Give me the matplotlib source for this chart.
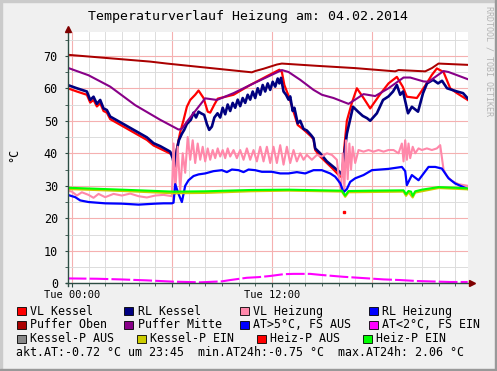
import matplotlib
matplotlib.use("Agg")
import matplotlib.pyplot as plt
from matplotlib.patches import Rectangle
from matplotlib.ticker import MultipleLocator, FuncFormatter

W, H = 497, 371
MONO = "DejaVu Sans Mono"

# time axis in hours since Tue 00:00, values in degC
vl_kessel_t = [-0.25, 0.3, 0.9, 1.1, 1.3, 1.5, 1.7, 1.9, 2.1, 2.3, 3.3, 4.5, 4.9, 5.3, 5.95,
               6.05, 6.15, 6.3, 6.5, 6.7, 6.9, 7.1, 7.4, 7.6, 7.9, 8.15, 8.3, 8.55, 8.75, 9.7,
               10.7, 11.7, 12.45, 12.6, 12.75, 13.05, 13.35, 13.55, 13.9, 14.35, 14.5, 14.6,
               14.9, 15.3, 15.7, 16.1, 16.25, 16.35, 16.5, 16.8, 17.1, 17.5, 17.9, 18.5, 19.0,
               19.5, 19.85, 20.1, 20.7, 21.2, 21.6, 21.9, 22.3, 22.7, 23.1, 23.75]
vl_kessel = [60.0, 59.0, 58.0, 55.6, 56.4, 54.4, 55.4, 53.0, 52.5, 50.5, 47.6, 44.1, 42.4, 41.4, 39.8,
             39.5, 35.8, 41.5, 46.5, 50.2, 54.3, 56.4, 58.0, 59.3, 57.0, 52.8, 52.5, 55.0, 56.8, 58.0,
             61.0, 63.7, 65.7, 65.0, 61.0, 57.0, 52.0, 48.7, 47.3, 45.2, 44.3, 41.0,
             39.0, 37.0, 35.0, 32.8, 33.0, 42.0, 50.0, 55.5, 60.0, 57.0, 53.8, 58.2, 61.5,
             63.5, 60.5, 57.4, 57.0, 60.8, 64.1, 66.1, 65.0, 60.0, 58.5, 56.4]

rl_kessel_t = [-0.25, 0.3, 0.9, 1.1, 1.3, 1.5, 1.7, 1.9, 2.1, 2.3, 3.3, 4.5, 4.9, 5.3, 5.9,
               6.05, 6.15, 6.3, 6.42, 6.6, 6.74, 6.9, 7.14, 7.3, 7.45, 7.6, 7.75, 7.94, 8.1, 8.24,
               8.4, 8.55, 8.74, 8.9, 9.05, 9.2, 9.35, 9.5, 9.65, 9.8, 9.95, 10.1, 10.25, 10.4,
               10.55, 10.7, 10.85, 11.0, 11.15, 11.3, 11.45, 11.6, 11.75, 11.9, 12.05, 12.2,
               12.35, 12.45, 12.55, 12.7, 12.85, 13.0, 13.1, 13.25, 13.35, 13.55, 13.7, 13.9,
               14.1, 14.35, 14.5, 14.6, 14.9, 15.3, 15.7, 16.05, 16.2, 16.3, 16.5, 16.87, 17.17,
               17.45, 17.71, 17.9, 18.3, 18.67, 19.0, 19.27, 19.5, 19.7, 19.87, 20.1, 20.17,
               20.4, 20.77, 21.07, 21.31, 21.67, 21.97, 22.21, 22.51, 23.11, 23.47, 23.75]
rl_kessel = [61.0, 60.0, 59.0, 56.4, 57.4, 55.2, 56.4, 53.8, 53.3, 51.3, 48.4, 44.9, 43.1, 42.2, 40.5,
             38.5, 35.9, 41.0, 44.0, 46.0, 47.2, 49.0, 50.3, 52.5, 51.0, 52.8, 52.3, 51.8, 49.0, 47.2,
             48.2, 51.0, 52.3, 51.0, 54.0, 52.0, 55.0, 53.0, 55.5, 54.0, 56.5, 54.5, 57.0, 55.5,
             58.0, 56.5, 59.0, 57.0, 60.0, 58.0, 61.0, 59.0, 61.5, 59.5, 62.0, 60.5,
             63.0, 61.5, 63.2, 59.0, 58.0, 56.5, 57.5, 53.0, 54.0, 49.2, 50.0, 47.5,
             47.0, 45.6, 44.6, 41.5, 40.0, 37.5, 35.8, 34.3, 33.5, 38.0, 46.0, 54.3, 52.8,
             51.5, 50.8, 50.0, 52.3, 56.4, 57.5, 59.0, 61.0, 58.0, 59.0, 53.8, 52.3,
             54.3, 52.8, 58.5, 61.5, 62.6, 61.5, 62.3, 60.0, 59.0, 58.5, 56.9]

vl_heizung_t = [-0.25, 0.0, 0.3, 0.6, 1.0, 1.3, 1.6, 2.0, 2.5, 3.0, 3.5, 4.0, 4.5, 5.0, 5.5, 6.0,
                6.1, 6.2, 6.35, 6.5, 6.65, 6.8, 6.95, 7.1, 7.25, 7.4, 7.55, 7.7, 7.85, 8.0, 8.15,
                8.3, 8.45, 8.6, 8.75, 8.9, 9.05, 9.2, 9.35, 9.5, 9.7, 9.9, 10.1, 10.3, 10.5, 10.7,
                10.9, 11.1, 11.3, 11.5, 11.7, 11.9, 12.1, 12.3, 12.5, 12.7, 12.9, 13.1, 13.3, 13.5,
                13.7, 13.9, 14.1, 14.4, 14.7, 15.0, 15.3, 15.6, 15.9, 16.05, 16.15, 16.25, 16.35,
                16.45, 16.55, 16.65, 16.75, 16.85, 17.0, 17.2, 17.5, 17.8, 18.1, 18.4, 18.7, 19.0,
                19.3, 19.6, 19.8, 19.9, 20.0, 20.1, 20.2, 20.3, 20.45, 20.6, 20.8, 21.0, 21.3,
                21.6, 21.9, 22.1, 22.3, 22.5, 22.8, 23.2, 23.75]
vl_heizung = [28.5, 28.2, 27.0, 28.0, 27.2, 26.3, 27.5, 26.5, 27.5, 27.0, 27.6, 26.8, 26.4, 27.0, 27.2, 26.8,
              43.0, 27.5, 42.0, 28.5, 40.0, 34.0, 45.0, 38.0, 44.0, 37.0, 43.0, 38.0, 42.0, 37.5, 41.5,
              38.0, 41.0, 38.5, 41.5, 39.0, 41.0, 38.5, 41.5, 39.0, 41.0, 38.5, 41.0, 38.0, 41.5, 38.0,
              41.0, 37.5, 42.0, 37.5, 42.0, 37.0, 42.0, 37.0, 42.5, 36.5, 42.0, 37.0, 41.0, 37.5,
              40.0, 38.0, 39.5, 38.0, 39.5, 39.0, 40.0, 39.5, 38.0, 31.0, 28.5, 40.0, 29.0,
              44.0, 32.0, 43.0, 35.0, 42.0, 37.0, 41.0, 40.5, 41.0, 40.5, 41.0, 40.5, 41.0,
              41.0, 40.0, 43.0, 37.5, 44.0, 38.0, 43.0, 38.5, 42.0, 40.0, 41.5, 41.0, 41.5,
              41.0, 41.5, 42.5, 35.0, 33.0, 31.5, 30.5, 30.0]

rl_heizung_t = [-0.25, 0.2, 0.5, 1.0, 1.5, 2.0, 3.0, 4.0, 5.0, 5.5, 6.0, 6.1, 6.2, 6.4, 6.6, 6.8,
                7.0, 7.3, 7.6, 8.0, 8.5, 9.0, 9.3, 9.6, 10.0, 10.3, 10.6, 11.0, 11.4, 12.0, 12.5,
                13.0, 13.5, 14.0, 14.5, 15.0, 15.5, 15.8, 16.1, 16.3, 16.5, 16.7, 17.0, 17.5, 18.0,
                19.0, 19.8, 20.0, 20.1, 20.4, 20.8, 21.4, 21.8, 22.2, 22.6, 23.0, 23.75]
rl_heizung = [27.2, 26.5, 25.5, 25.0, 24.8, 24.6, 24.5, 24.2, 24.5, 24.6, 24.6, 24.8, 30.5, 27.5, 25.0, 30.0,
              31.7, 33.0, 33.5, 33.8, 34.5, 34.8, 34.2, 35.0, 34.8, 34.2, 35.0, 34.8, 34.3, 34.3, 33.8,
              33.8, 34.2, 33.8, 34.8, 34.8, 33.8, 32.8, 30.8, 28.0, 29.0, 31.2, 32.3, 33.3, 34.8,
              35.2, 35.8, 34.5, 30.2, 33.3, 31.7, 35.8, 35.8, 35.3, 32.3, 30.7, 29.0]

puffer_oben_t = [-0.25, 4.7, 5.7, 10.8, 11.0, 11.5, 12.3, 12.6, 14.7, 17.0, 19.4, 19.6, 21.2, 21.6, 22.0, 23.75]
puffer_oben = [70.3, 68.2, 67.6, 64.9, 65.3, 66.0, 67.3, 67.6, 66.9, 66.2, 65.2, 65.6, 65.2, 66.2, 67.6, 67.2]

puffer_mitte_t = [-0.25, 1.0, 2.3, 3.8, 5.3, 6.4, 6.6, 6.9, 8.0, 8.7, 9.7, 10.7, 12.6, 13.0, 13.7, 14.5,
                  15.0, 15.7, 16.2, 16.6, 17.0, 17.5, 18.2, 19.0, 19.9, 20.3, 21.1, 21.4, 22.3, 22.6, 23.75]
puffer_mitte = [66.3, 64.0, 60.5, 54.8, 50.3, 47.3, 47.5, 49.7, 56.9, 56.4, 58.5, 61.0, 65.6, 65.0, 62.6, 59.5,
                58.0, 57.0, 56.0, 55.2, 56.5, 58.2, 57.6, 60.0, 63.3, 63.3, 62.1, 62.0, 65.3, 65.0, 62.8]

at_low_t = [-0.25, 1.5, 2.9, 4.5, 6.1, 7.0, 7.7, 9.0, 9.5, 10.5, 11.2, 11.9, 12.7, 13.3, 14.3, 15.0,
            16.3, 17.5, 18.7, 19.7, 20.7, 22.7, 23.75]
at_low = [1.5, 1.4, 1.2, 0.9, 0.5, 0.4, 0.3, 0.6, 1.0, 1.7, 1.9, 2.25, 2.8, 2.9, 2.9, 2.55,
          2.0, 1.6, 1.2, 1.0, 0.7, 0.4, 0.4]

kessel_p_ein_t = [-0.25, 3.0, 6.1, 8.0, 10.7, 13.0, 16.2, 16.4, 16.6, 19.9, 20.05, 20.2, 20.45, 20.6, 22.0, 23.75]
kessel_p_ein = [29.0, 28.4, 27.7, 27.8, 28.3, 28.5, 28.2, 26.6, 28.0, 28.2, 26.9, 28.0, 26.4, 27.9, 29.3, 28.9]

heiz_p_aus_t = [16.35]
heiz_p_aus = [21.8]

heiz_p_ein_t = [-0.25, 3.0, 6.1, 8.0, 10.7, 13.0, 15.0, 16.2, 16.4, 16.6, 18.0, 19.9, 20.05, 20.2,
                20.35, 20.45, 20.6, 21.0, 22.0, 23.0, 23.75]
heiz_p_ein = [29.4, 28.8, 28.2, 28.3, 28.7, 28.8, 28.6, 28.5, 27.0, 28.4, 28.5, 28.6, 27.4, 28.4,
              28.2, 26.9, 28.3, 28.8, 29.6, 29.4, 29.2]

legend_rows = [
    [("VL Kessel", "#ff0000", 16.5), ("RL Kessel", "#000080", 124), ("VL Heizung", "#ff88aa", 240),
     ("RL Heizung", "#0000ff", 369)],
    [("Puffer Oben", "#aa0000", 16.5), ("Puffer Mitte", "#880088", 124), ("AT>5°C, FS AUS", "#0000ff", 240),
     ("AT<2°C, FS EIN", "#ff00ff", 369)],
    [("Kessel-P AUS", "#888888", 16.5), ("Kessel-P EIN", "#cccc00", 137), ("Heiz-P AUS", "#ff0000", 257),
     ("Heiz-P EIN", "#00ff00", 363)],
]
legend_y = [311.3, 325, 339]
footer = "akt.AT:-0.72 °C um 23:45  min.AT24h:-0.75 °C  max.AT24h: 2.06 °C"


def fx(px):
    return px / W


def fy(py):
    return 1 - py / H


fig = plt.figure(figsize=(W / 100, H / 100), dpi=100, facecolor="#f0f0f0")

# frame shading like rrdtool
fig.patches.append(Rectangle((0, fy(2)), 1, fy(0) - fy(2), transform=fig.transFigure, color="#cbcbcb"))
fig.patches.append(Rectangle((0, 0), fx(2), 1, transform=fig.transFigure, color="#cbcbcb"))
fig.patches.append(Rectangle((0, 0), 1, 2 / H, transform=fig.transFigure, color="#999999"))
fig.patches.append(Rectangle((fx(W - 2), 0), fx(2), 1, transform=fig.transFigure, color="#999999"))

ax = fig.add_axes([fx(67.7), fy(283.3), 400 / W, (283.3 - 31.7) / H])
ax.set_facecolor("white")
ax.set_xlim(-0.25, 23.75)
ax.set_ylim(0, 77.4)

ax.xaxis.set_major_locator(MultipleLocator(6))
ax.xaxis.set_minor_locator(MultipleLocator(1))
ax.yaxis.set_major_locator(MultipleLocator(10))
ax.yaxis.set_minor_locator(MultipleLocator(5))
ax.grid(which="minor", color="#dcdcdc", lw=0.7)
ax.grid(which="major", color="#f5b0b0", lw=0.8)
ax.set_axisbelow(True)

ax.xaxis.set_major_formatter(FuncFormatter(
    lambda v, p: {0: "Tue 00:00", 12: "Tue 12:00"}.get(int(round(v)), "")))
ax.tick_params(axis="x", which="major", labelsize=7.5, pad=2, length=3, color="#2c4d43")
ax.tick_params(axis="y", which="major", labelsize=8.5, pad=5, length=2, color="#2c4d43")
ax.tick_params(which="minor", length=2, color="#2c4d43")
for lab in ax.get_xticklabels() + ax.get_yticklabels():
    lab.set_family(MONO)
for s in ax.spines.values():
    s.set_visible(False)

ax.plot(vl_kessel_t, vl_kessel, color="#ff0000", lw=1.6)
ax.plot(rl_kessel_t, rl_kessel, color="#000080", lw=1.9)
ax.plot(vl_heizung_t, vl_heizung, color="#ff88aa", lw=1.5)
ax.plot(rl_heizung_t, rl_heizung, color="#0000ff", lw=1.6)
ax.plot(puffer_oben_t, puffer_oben, color="#aa0000", lw=1.44)
ax.plot(puffer_mitte_t, puffer_mitte, color="#880088", lw=1.5)
ax.plot(at_low_t, at_low, color="#ff00ff", lw=1.5, ls=(0, (9, 1.5)))
ax.plot(kessel_p_ein_t, kessel_p_ein, color="#cccc00", lw=1.5)
ax.plot(heiz_p_aus_t, heiz_p_aus, "s", color="#ff0000", ms=2)
ax.plot(heiz_p_ein_t, heiz_p_ein, color="#00ff00", lw=1.5)

# axes with arrows
axis_c = "#2c4d43"
ax.plot([0, 0], [-0.012, 1.0], transform=ax.transAxes, color=axis_c, lw=1, clip_on=False)
ax.plot([-0.005, 1.01], [0, 0], transform=ax.transAxes, color=axis_c, lw=1, clip_on=False)
ax.plot([0], [1.012], marker="^", ms=4, color="#7f0000", transform=ax.transAxes, clip_on=False)
ax.plot([1.0095], [0], marker=">", ms=4, color="#7f0000", transform=ax.transAxes, clip_on=False)

fig.text(fx(248), fy(16.5), "Temperaturverlauf Heizung am: 04.02.2014", ha="center", va="center",
         family=MONO, size=9.5)
fig.text(fx(14), fy(155), "°C", rotation=90, ha="center", va="center", family=MONO, size=8.5)
fig.text(fx(489), fy(6), "RRDTOOL / TOBI OETIKER", rotation=270, ha="center", va="top",
         family=MONO, size=6, color="#b4b4b4")

for row, y in zip(legend_rows, legend_y):
    for label, color, x in row:
        fig.patches.append(Rectangle((fx(x), fy(y + 4)), 9 / W, 8 / H, transform=fig.transFigure,
                                     facecolor=color, edgecolor="black", lw=0.6))
        fig.text(fx(x + 13.5), fy(y), label, ha="left", va="center", family=MONO, size=8.4)
fig.text(fx(16.5), fy(352.7), footer, ha="left", va="center", family=MONO, size=8.4)

fig.savefig("out.png", dpi=100, facecolor=fig.get_facecolor())
